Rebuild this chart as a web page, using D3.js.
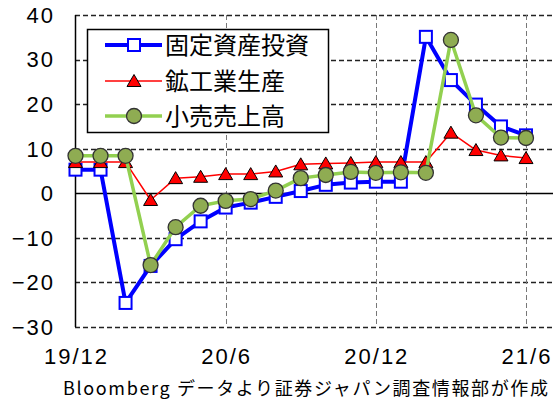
<!DOCTYPE html>
<html>
<head>
<meta charset="utf-8">
<script src="https://cdn.jsdelivr.net/npm/d3@7/dist/d3.min.js"></script>
<style>
  body { margin: 0; background: #fff; }
  svg { display: block; }
</style>
</head>
<body>
<div id="chart"></div>
<script>
"use strict";

// months on the x axis
var months = ["19/12", "20/1", "20/2", "20/3", "20/4", "20/5", "20/6", "20/7", "20/8",
  "20/9", "20/10", "20/11", "20/12", "21/1", "21/2", "21/3", "21/4", "21/5", "21/6"];

// y/y change, %
var fixedAssetInvestment = [5.3, 5.3, -24.6, -16.3, -10.3, -6.3, -3.2, -2.1, -0.8,
  0.5, 1.9, 2.4, 2.6, 2.6, 35.1, 25.4, 19.9, 15.0, 13.0];
var industrialProduction = [7.0, 7.0, 7.0, -1.5, 3.4, 3.7, 4.3, 4.3, 4.9,
  6.5, 6.7, 6.8, 7.0, 7.0, 7.0, 13.6, 9.7, 8.5, 7.9];
var retailSales = [8.4, 8.4, 8.4, -16.1, -7.6, -2.8, -1.7, -1.3, 0.6,
  3.4, 4.1, 4.8, 4.6, 4.7, 4.6, 34.4, 17.5, 12.5, 12.4];

var seriesNames = ["固定資産投資", "鉱工業生産", "小売売上高"];
var yTicks = [-30, -20, -10, 0, 10, 20, 30, 40];
var xTickLabels = ["19/12", "20/6", "20/12", "21/6"];
var sourceNote = "Bloomberg データより証券ジャパン調査情報部が作成";

(function() {

  var W = 554, H = 401;
  var plotLeft = 75, plotRight = 553, plotTop = 15, plotBottom = 327;

  var svg = d3.select("#chart").append("svg")
    .attr("width", W)
    .attr("height", H);

  svg.append("rect").attr("width", W).attr("height", H).attr("fill", "#fff");

  var x = d3.scalePoint().domain(months).range([plotLeft + 0.5, 526]);
  var y = d3.scaleLinear().domain([-30, 40]).range([plotBottom, plotTop]);

  var numFont = "'Liberation Sans', Arial, sans-serif";
  var jpFont = "'Noto Sans CJK JP', sans-serif";

  // horizontal grid, dashed (zero line drawn solid later)
  svg.append("g").selectAll("line")
    .data(yTicks.filter(function(d) { return d !== 0; }))
    .enter().append("line")
    .attr("x1", plotLeft).attr("x2", plotRight)
    .attr("y1", function(d) { return Math.round(y(d)) + 0.5; })
    .attr("y2", function(d) { return Math.round(y(d)) + 0.5; })
    .attr("stroke", "#222")
    .attr("stroke-width", 1.3)
    .attr("stroke-dasharray", "5,3");

  // vertical grid, light dashed
  svg.append("g").selectAll("line")
    .data(xTickLabels.slice(1))
    .enter().append("line")
    .attr("x1", function(d) { return Math.round(x(d)) + 0.5; })
    .attr("x2", function(d) { return Math.round(x(d)) + 0.5; })
    .attr("y1", plotTop).attr("y2", plotBottom)
    .attr("stroke", "#777")
    .attr("stroke-width", 1)
    .attr("stroke-dasharray", "5,3");

  // left axis and zero line
  svg.append("line")
    .attr("x1", plotLeft + 0.5).attr("x2", plotLeft + 0.5)
    .attr("y1", plotTop).attr("y2", plotBottom)
    .attr("stroke", "#000").attr("stroke-width", 1.5);

  svg.append("line")
    .attr("x1", plotLeft).attr("x2", plotRight)
    .attr("y1", Math.round(y(0)) + 0.5).attr("y2", Math.round(y(0)) + 0.5)
    .attr("stroke", "#000").attr("stroke-width", 1.5);

  // tick labels
  svg.append("g").selectAll("text")
    .data(yTicks)
    .enter().append("text")
    .attr("x", 55)
    .attr("y", function(d) { return y(d); })
    .attr("dy", "0.36em")
    .attr("text-anchor", "end")
    .attr("font-family", numFont)
    .attr("font-size", 22)
    .attr("letter-spacing", 2)
    .attr("fill", "#000")
    .text(function(d) { return d < 0 ? "\u2212" + Math.abs(d) : d; });

  svg.append("g").selectAll("text")
    .data(xTickLabels)
    .enter().append("text")
    .attr("x", function(d) { return x(d) + 1; })
    .attr("y", 364)
    .attr("text-anchor", "middle")
    .attr("font-family", numFont)
    .attr("font-size", 22)
    .attr("letter-spacing", 2)
    .attr("fill", "#000")
    .text(function(d) { return d; });

  svg.append("text")
    .attr("x", 63)
    .attr("y", 395)
    .attr("font-family", jpFont)
    .attr("font-size", 18)
    .attr("textLength", 485)
    .attr("lengthAdjust", "spacing")
    .attr("fill", "#000")
    .text(sourceNote);

  // marker drawing helpers
  var drawSquare = function(sel) {
    sel.append("rect")
      .attr("x", -6).attr("y", -6)
      .attr("width", 12).attr("height", 12)
      .attr("fill", "#fff")
      .attr("stroke", "#0000ff")
      .attr("stroke-width", 2);
  };

  var drawTriangle = function(sel) {
    sel.append("path")
      .attr("d", "M0,-6.5L7,5.5L-7,5.5Z")
      .attr("fill", "#ff0000")
      .attr("stroke", "#000")
      .attr("stroke-width", 1);
  };

  var drawCircle = function(sel) {
    sel.append("circle")
      .attr("r", 7.5)
      .attr("fill", "#8fac52")
      .attr("stroke", "#333")
      .attr("stroke-width", 1.3);
  };

  var series = [
    { values: fixedAssetInvestment, color: "#0000ff", width: 4, marker: drawSquare },
    { values: industrialProduction, color: "#ff0000", width: 1.5, marker: drawTriangle },
    { values: retailSales, color: "#92d050", width: 3.5, marker: drawCircle }
  ];

  var line = d3.line()
    .x(function(d, i) { return x(months[i]); })
    .y(function(d) { return y(d); });

  series.forEach(function(s) {
    var g = svg.append("g");
    g.append("path")
      .attr("d", line(s.values))
      .attr("fill", "none")
      .attr("stroke", s.color)
      .attr("stroke-width", s.width)
      .attr("stroke-linejoin", "round");
    g.selectAll("g.pt")
      .data(s.values)
      .enter().append("g")
      .attr("class", "pt")
      .attr("transform", function(d, i) {
        return "translate(" + x(months[i]) + "," + y(d) + ")";
      })
      .call(s.marker);
  });

  // legend
  var legend = svg.append("g");
  legend.append("rect")
    .attr("x", 87.5).attr("y", 29.5)
    .attr("width", 241).attr("height", 103)
    .attr("fill", "#fff")
    .attr("stroke", "#000")
    .attr("stroke-width", 1.5);

  var rowY = [45, 81, 116];
  series.forEach(function(s, i) {
    var row = legend.append("g").attr("transform", "translate(0," + rowY[i] + ")");
    row.append("line")
      .attr("x1", 105).attr("x2", 162)
      .attr("stroke", s.color)
      .attr("stroke-width", s.width);
    row.append("g").attr("transform", "translate(134,0)").call(s.marker);
    row.append("text")
      .attr("x", 165)
      .attr("dy", "0.36em")
      .attr("font-family", jpFont)
      .attr("font-size", 24)
      .attr("fill", "#000")
      .text(seriesNames[i]);
  });

}());
</script>
</body>
</html>
